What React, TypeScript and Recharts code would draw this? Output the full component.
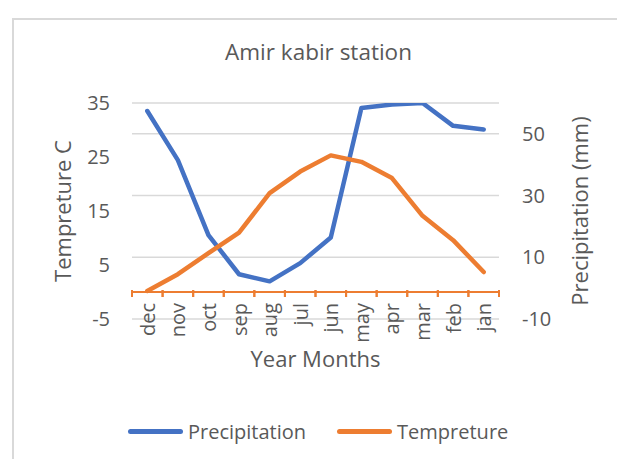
import React from "react"
import { LineChart, Line, XAxis, YAxis, CartesianGrid, ReferenceLine, Legend, Label } from "recharts"

// monthly values
const months = ["dec", "nov", "oct", "sep", "aug", "jul", "jun", "may", "apr", "mar", "feb", "jan"]
const precipitation = [57.4, 41.5, 17.2, 4.5, 2.2, 8.1, 16.4, 58.4, 59.5, 60.0, 52.6, 51.4]
const temperature = [0.2, 3.3, 7.2, 11.0, 18.3, 22.3, 25.3, 24.1, 21.1, 14.1, 9.6, 3.7]
const tempTicks = [-5, 5, 15, 25, 35]
const precipTicks = [-10, 10, 30, 50]

const data = months.map((month, i) => ({
  month,
  Precipitation: precipitation[i],
  Tempreture: temperature[i],
}))

const BLUE = "#4472C4"
const ORANGE = "#ED7D31"
const TEXT = "#595959"
const GRID = "#D9D9D9"
const FONT = "'Open Sans', sans-serif"

const PLOT_WIDTH = 367
// category axis sits at temperature 0, not at the plot bottom
const AXIS_SHIFT = 29

const MonthTick = (props: any) => {
  const { x, y, payload } = props
  const half = PLOT_WIDTH / months.length / 2
  const y0 = y - AXIS_SHIFT
  const ty = y0 + 13
  return (
    <g>
      <line x1={x - half} x2={x - half} y1={y0} y2={y0 + 7} stroke={ORANGE} strokeWidth={2} />
      <line x1={x + half} x2={x + half} y1={y0} y2={y0 + 7} stroke={ORANGE} strokeWidth={2} />
      <text
        x={x}
        y={ty}
        transform={`rotate(-90 ${x} ${ty})`}
        textAnchor="end"
        dominantBaseline="central"
        fill={TEXT}
        fontSize={20}
        fontFamily={FONT}
      >
        {payload.value}
      </text>
    </g>
  )
}

const LegendContent = (props: any) => {
  const { payload = [] } = props
  return (
    <div style={{ display: "flex", alignItems: "center", height: 24, fontFamily: FONT, fontSize: 20, color: TEXT }}>
      {payload.map((entry: any, i: number) => (
        <div key={entry.value} style={{ display: "flex", alignItems: "center", marginLeft: i === 0 ? 0 : 31 }}>
          <span style={{ display: "inline-block", width: 55, height: 5, borderRadius: 3, background: entry.color, marginRight: 5 }} />
          <span>{entry.value}</span>
        </div>
      ))}
    </div>
  )
}

export default function App() {
  return (
    <div style={{ position: "relative", width: 617, height: 459, overflow: "hidden", background: "#fff" }}>
      <style>{`body{margin:0;overflow:hidden}`}</style>
      <div
        style={{
          position: "absolute",
          left: 12,
          top: 18,
          width: 640,
          height: 480,
          border: `2px solid ${GRID}`,
          boxSizing: "border-box",
        }}
      />
      <div
        style={{
          position: "absolute",
          left: 0,
          top: 41,
          width: 637,
          textAlign: "center",
          fontFamily: FONT,
          fontSize: 22.5,
          lineHeight: "22px",
          color: TEXT,
        }}
      >
        Amir kabir station
      </div>
      <div style={{ position: "absolute", left: 0, top: 0 }}>
        <LineChart width={617} height={459} data={data} margin={{ top: 103, right: 8, left: 38, bottom: 68 }}>
          <CartesianGrid vertical={false} yAxisId="right" stroke={GRID} strokeWidth={1.5} />
          <XAxis
            dataKey="month"
            scale="band"
            height={48}
            interval={0}
            axisLine={false}
            tickLine={false}
            tickSize={0}
            tickMargin={0}
            tick={<MonthTick />}
          >
            <Label value="Year Months" position="insideBottom" offset={0} fill={TEXT} fontSize={22} fontFamily={FONT} />
          </XAxis>
          <YAxis
            yAxisId="left"
            domain={[-5, 35]}
            ticks={tempTicks}
            allowDataOverflow
            width={94}
            axisLine={false}
            tickLine={false}
            tickSize={0}
            tickMargin={22}
            tick={{ fill: TEXT, fontSize: 20, fontFamily: FONT }}
          >
            <Label value="Tempreture C" angle={-90} position="center" dx={-22} fill={TEXT} fontSize={22} fontFamily={FONT} />
          </YAxis>
          <YAxis
            yAxisId="right"
            orientation="right"
            domain={[-10, 60]}
            ticks={precipTicks}
            allowDataOverflow
            width={110}
            axisLine={false}
            tickLine={false}
            tickSize={0}
            tickMargin={23}
            tick={{ fill: TEXT, fontSize: 20, fontFamily: FONT, textAnchor: "start" }}
          >
            <Label value="Precipitation (mm)" angle={-90} position="center" dx={26} fill={TEXT} fontSize={22} fontFamily={FONT} />
          </YAxis>
          <ReferenceLine yAxisId="left" y={0} stroke={ORANGE} strokeWidth={2} />
          <Line
            yAxisId="right"
            type="linear"
            dataKey="Precipitation"
            stroke={BLUE}
            strokeWidth={4.5}
            strokeLinecap="round"
            strokeLinejoin="round"
            dot={false}
            isAnimationActive={false}
          />
          <Line
            yAxisId="left"
            type="linear"
            dataKey="Tempreture"
            stroke={ORANGE}
            strokeWidth={4.5}
            strokeLinecap="round"
            strokeLinejoin="round"
            dot={false}
            isAnimationActive={false}
          />
          <Legend
            verticalAlign="bottom"
            content={<LegendContent />}
            wrapperStyle={{ left: 128, bottom: 16, width: "auto" }}
          />
        </LineChart>
      </div>
    </div>
  )
}
